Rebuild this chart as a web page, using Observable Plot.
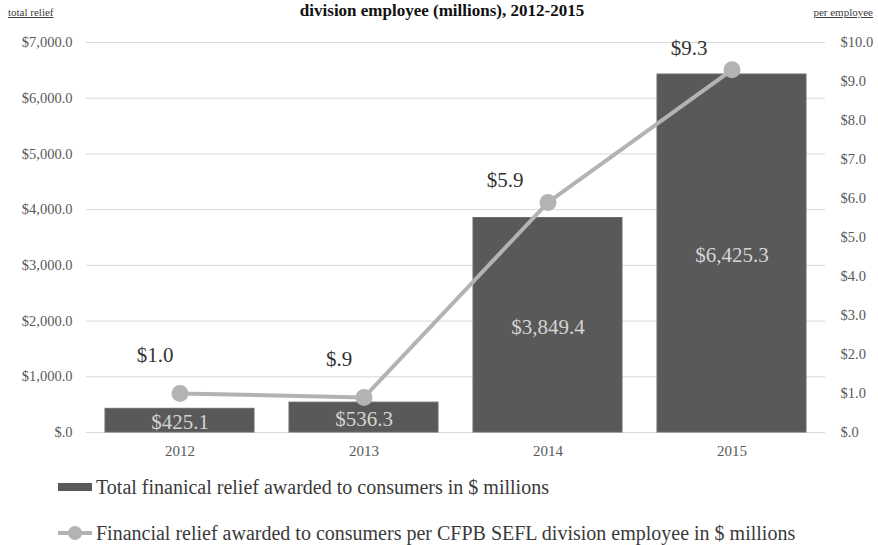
<!DOCTYPE html>
<html>
<head>
<meta charset="utf-8">
<script src="https://cdn.jsdelivr.net/npm/d3@7"></script>
<script src="https://cdn.jsdelivr.net/npm/@observablehq/plot@0.6"></script>
<style>
  html, body { margin: 0; padding: 0; background: #fff; }
  #wrap { position: relative; width: 878px; height: 545px; overflow: hidden; font-family: "Liberation Serif", "DejaVu Serif", serif; }
  #title { position: absolute; top: 1px; left: 0; width: 884px; text-align: center; font-size: 17px; line-height: 19px; font-weight: bold; color: #111; white-space: nowrap; }
  .axt { position: absolute; top: 6px; font-size: 11px; color: #404040; text-decoration: underline; }
  #chart { position: absolute; top: 0; left: 0; }
  .leg { position: absolute; left: 58px; display: flex; align-items: center; font-size: 20px; line-height: 22px; color: #3a3a3a; white-space: nowrap; }
</style>
</head>
<body>
<div id="wrap">
  <div id="title">division employee (millions), 2012-2015</div>
  <div class="axt" style="left:8px">total relief</div>
  <div class="axt" style="right:5px">per employee</div>
  <div id="chart"></div>
  <div class="leg" style="top:476px">
    <svg width="38" height="22"><rect x="0" y="7" width="34" height="8" fill="#595959"></rect></svg>
    <span>Total finanical relief awarded to consumers in $ millions</span>
  </div>
  <div class="leg" style="top:522px">
    <svg width="38" height="22"><line x1="0" x2="34" y1="11" y2="11" stroke="#b3b3b3" stroke-width="4"></line><circle cx="17" cy="11" r="7" fill="#b3b3b3"></circle></svg>
    <span>Financial relief awarded to consumers per CFPB SEFL division employee in $ millions</span>
  </div>
</div>
<script>
const years = ["2012", "2013", "2014", "2015"];
const totalRelief = [425.1, 536.3, 3849.4, 6425.3];
const perEmployee = [1.0, 0.9, 5.9, 9.3];
const leftTicks = [0, 1000, 2000, 3000, 4000, 5000, 6000, 7000];
const rightTicks = [0, 1, 2, 3, 4, 5, 6, 7, 8, 9, 10];

const ratio = 7000 / 10; // right axis max 10 maps to left axis max 7000

const fmtMoney = (v) => {
  const s = d3.format(",.1f")(v);
  return "$" + (s.startsWith("0") ? s.slice(1) : s);
};

const rows = years.map((y, i) => ({year: y, total: totalRelief[i], per: perEmployee[i], i}));

const plot = Plot.plot({
  width: 878,
  height: 470,
  marginTop: 42,
  marginBottom: 38,
  marginLeft: 86,
  marginRight: 53,
  style: {fontFamily: "'Liberation Serif', 'DejaVu Serif', serif", background: "transparent"},
  x: {domain: years, paddingInner: 0.19, paddingOuter: 0.095, label: null},
  y: {domain: [0, 7000], label: null},
  marks: [
    Plot.gridY(leftTicks, {stroke: "#d9d9d9", strokeOpacity: 1, strokeWidth: 1}),
    Plot.axisY(leftTicks, {anchor: "left", tickSize: 0, tickPadding: 14, tickFormat: fmtMoney, fontSize: 14.5, fill: "#595959", label: null}),
    Plot.axisY(rightTicks.map(v => v * ratio), {anchor: "right", tickSize: 0, tickPadding: 15, tickFormat: (d) => fmtMoney(d / ratio), fontSize: 14.5, fill: "#595959", label: null}),
    Plot.axisX({tickSize: 0, tickPadding: 13, fontSize: 15, fill: "#595959", label: null}),
    Plot.barY(rows, {x: "year", y: "total", fill: "#595959", stroke: "#6a6a6a", strokeWidth: 1}),
    Plot.text(rows, {x: "year", y: (d) => d.total / 2, text: (d) => fmtMoney(d.total), fill: "#d4d4d4", fontSize: 21, dy: 2}),
    Plot.line(rows, {x: "year", y: (d) => d.per * ratio, stroke: "#b3b3b3", strokeWidth: 4}),
    Plot.dot(rows, {x: "year", y: (d) => d.per * ratio, r: 8.5, fill: "#b3b3b3", stroke: "none"}),
    Plot.text(rows.filter(d => d.i < 2), {x: "year", y: (d) => d.per * ratio, text: (d) => fmtMoney(d.per), fill: "#333", fontSize: 21, dx: -25, dy: -38}),
    Plot.text(rows.filter(d => d.i >= 2), {x: "year", y: (d) => d.per * ratio, text: (d) => fmtMoney(d.per), fill: "#333", fontSize: 21, dx: -43, dy: -22})
  ]
});
document.getElementById("chart").appendChild(plot);
</script>
</body>
</html>
